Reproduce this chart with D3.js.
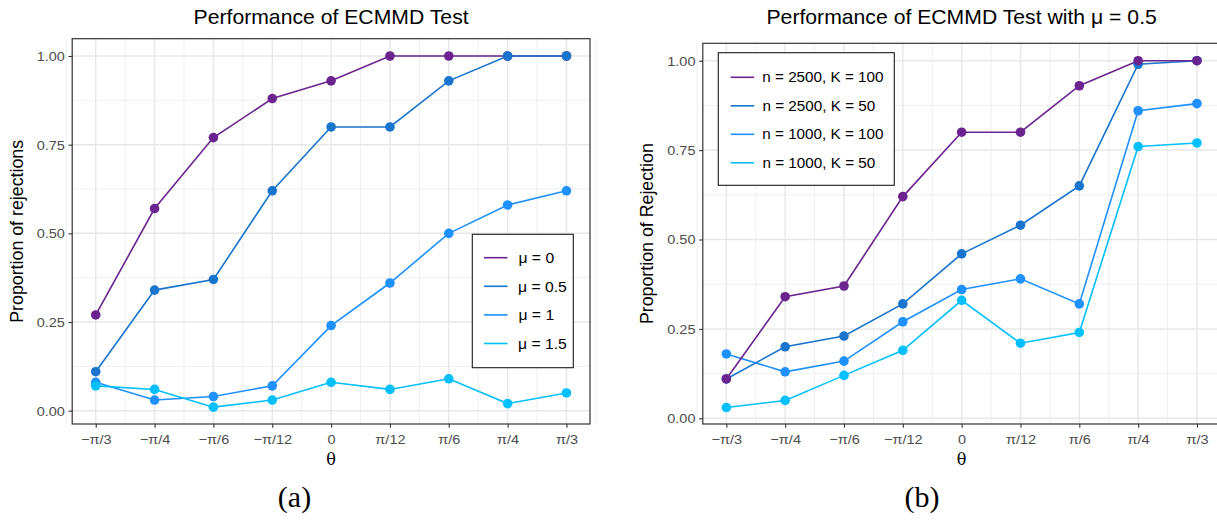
<!DOCTYPE html>
<html><head><meta charset="utf-8">
<script src="https://cdn.jsdelivr.net/npm/d3@7"></script>
<style>
body{margin:0;background:#fff;}
svg{display:block;font-family:"Liberation Sans",Arial,Helvetica,sans-serif;}
.sx{transform-box:fill-box;transform-origin:center;transform:scaleX(1.06);}
</style></head><body><svg id="c" width="1217" height="521"></svg>
<script>
// ---------- data ----------
const thetaLabels = ["−π/3","−π/4","−π/6","−π/12","0","π/12","π/6","π/4","π/3"];
const yTicks = [0, 0.25, 0.5, 0.75, 1];
const yTickLabels = ["0.00","0.25","0.50","0.75","1.00"];
const yMinor = [0.125, 0.375, 0.625, 0.875];

// panel (a)
const seriesA = ["μ = 0","μ = 0.5","μ = 1","μ = 1.5"];
const aMu0   = [0.27,0.57,0.77,0.88,0.93,1.00,1.00,1.00,1.00];
const aMu05  = [0.11,0.34,0.37,0.62,0.80,0.80,0.93,1.00,1.00];
const aMu1   = [0.08,0.03,0.04,0.07,0.24,0.36,0.50,0.58,0.62];
const aMu15  = [0.07,0.06,0.01,0.03,0.08,0.06,0.09,0.02,0.05];

// panel (b)
const seriesB = ["n = 2500, K = 100","n = 2500, K = 50","n = 1000, K = 100","n = 1000, K = 50"];
const bN2500K100 = [0.11,0.34,0.37,0.62,0.80,0.80,0.93,1.00,1.00];
const bN2500K50  = [0.11,0.20,0.23,0.32,0.46,0.54,0.65,0.99,1.00];
const bN1000K100 = [0.18,0.13,0.16,0.27,0.36,0.39,0.32,0.86,0.88];
const bN1000K50  = [0.03,0.05,0.12,0.19,0.33,0.21,0.24,0.76,0.77];

const colors = ["#6A238F","#1874CD","#1E90FF","#00BFFF"];

// ---------- drawing ----------
const svg = d3.select("#c");

function panel(cfg){
  const g = svg.append("g");
  const x = d3.scalePoint().domain(thetaLabels).range([cfg.left, cfg.right]).padding(0.4);
  const y = d3.scaleLinear().domain([0,1]).range([cfg.y0, cfg.y1]);
  const step = x.step();

  // grid
  const grid = g.append("g");
  const xMinor = thetaLabels.slice(0,-1).map(d => x(d) + step/2)
    .concat([x(thetaLabels[0]) - step/2, x(thetaLabels[thetaLabels.length-1]) + step/2]);
  grid.selectAll(".xm").data(xMinor).join("line")
    .attr("x1", d=>d).attr("x2", d=>d).attr("y1", cfg.top).attr("y2", cfg.bottom)
    .attr("stroke","#ebebeb").attr("stroke-width",0.8);
  grid.selectAll(".ym").data(yMinor).join("line")
    .attr("x1", cfg.left).attr("x2", cfg.right).attr("y1", d=>y(d)).attr("y2", d=>y(d))
    .attr("stroke","#ebebeb").attr("stroke-width",0.8);
  grid.selectAll(".xM").data(thetaLabels).join("line")
    .attr("x1", d=>x(d)).attr("x2", d=>x(d)).attr("y1", cfg.top).attr("y2", cfg.bottom)
    .attr("stroke","#e8e8e8").attr("stroke-width",1.5);
  grid.selectAll(".yM").data(yTicks).join("line")
    .attr("x1", cfg.left).attr("x2", cfg.right).attr("y1", d=>y(d)).attr("y2", d=>y(d))
    .attr("stroke","#e8e8e8").attr("stroke-width",1.5);

  // series
  const line = d3.line().x((d,i)=>x(thetaLabels[i])).y(d=>y(d));
  const order = cfg.order;
  order.forEach(k => {
    g.append("path").datum(cfg.values[k]).attr("d", line)
      .attr("fill","none").attr("stroke", colors[k]).attr("stroke-width",1.6);
  });
  order.forEach(k => {
    g.append("g").selectAll("circle").data(cfg.values[k]).join("circle")
      .attr("cx",(d,i)=>x(thetaLabels[i])).attr("cy", d=>y(d)).attr("r",4.8)
      .attr("fill", colors[k]);
  });

  // border
  g.append("rect").attr("x",cfg.left).attr("y",cfg.top)
    .attr("width",cfg.right-cfg.left).attr("height",cfg.bottom-cfg.top)
    .attr("fill","none").attr("stroke","#333").attr("stroke-width",1.2);

  // axes
  const ay = g.append("g").attr("transform",`translate(${cfg.left},0)`)
    .call(d3.axisLeft(y).tickValues(yTicks).tickFormat((d,i)=>yTickLabels[i])
      .tickSize(3.7).tickSizeOuter(0).tickPadding(4.4));
  ay.select(".domain").remove();
  ay.selectAll("line").attr("stroke","#333").attr("stroke-width",1.1);
  ay.selectAll("text").attr("class","sx").attr("fill","#4d4d4d")
    .style("font-size","13.7px").attr("font-family",null);

  const ax = g.append("g").attr("transform",`translate(0,${cfg.bottom})`)
    .call(d3.axisBottom(x).tickSize(3.7).tickSizeOuter(0));
  ax.select(".domain").remove();
  ax.selectAll("line").attr("stroke","#333").attr("stroke-width",1.1);
  ax.selectAll("text").attr("class","sx").attr("fill","#4d4d4d")
    .style("font-size","13.7px").attr("y",20.5).attr("dy",0).attr("font-family",null);
  g.selectAll(".tick text").attr("font-size",null);

  // titles
  g.append("text").attr("class","sx").attr("x",(cfg.left+cfg.right)/2).attr("y",24)
    .attr("text-anchor","middle").style("font-size","20px").attr("fill","#000").text(cfg.title);
  g.append("text").attr("x",x("0")).attr("y",465)
    .attr("text-anchor","middle").attr("font-family","'DejaVu Serif',serif")
    .style("font-size","16px").attr("fill","#000").text("θ");
  g.append("g").attr("transform",`translate(${cfg.ylabX},${(cfg.top+cfg.bottom)/2}) rotate(-90)`)
    .append("text").attr("text-anchor","middle").style("font-size","17.8px").attr("fill","#000")
    .text(cfg.ylabel);

  // subfigure label
  svg.append("text").attr("x",cfg.subX).attr("y",507).attr("text-anchor","middle")
    .attr("font-family","'Liberation Serif','DejaVu Serif',serif").style("font-size","30px")
    .attr("fill","#000").text(cfg.sub);

  // legend
  const L = cfg.legend;
  g.append("rect").attr("x",L.x).attr("y",L.y).attr("width",L.w).attr("height",L.h)
    .attr("fill","#fff").attr("stroke","#1a1a1a").attr("stroke-width",1.1);
  cfg.names.forEach((nm,i) => {
    const yy = L.firstY + i*L.dy;
    g.append("line").attr("x1",L.kx).attr("x2",L.kx+23.5).attr("y1",yy).attr("y2",yy)
      .attr("stroke",colors[i]).attr("stroke-width",1.6);
    g.append("text").attr("class","sx").attr("x",L.tx).attr("y",yy).attr("dy","0.36em")
      .style("font-size",L.fs+"px").attr("fill","#000").text(nm);
  });
}

panel({
  left:72.2, right:590, top:38.7, bottom:424, y0:410.7, y1:56,
  values:[aMu0,aMu05,aMu1,aMu15], names:seriesA, order:[0,1,2,3],
  title:"Performance of ECMMD Test", ylabel:"Proportion of rejections", ylabX:22.5,
  sub:"(a)", subX:294.5,
  legend:{x:472.3,y:234.3,w:101,h:133.4,firstY:257.7,dy:28.6,kx:484,tx:519.5,fs:14.8}
});
panel({
  left:702.8, right:1220.5, top:43.3, bottom:424, y0:418.3, y1:60.7,
  values:[bN2500K100,bN2500K50,bN1000K100,bN1000K50], names:seriesB, order:[3,2,1,0],
  title:"Performance of ECMMD Test with μ = 0.5", ylabel:"Proportion of Rejection", ylabX:652.5,
  sub:"(b)", subX:922,
  legend:{x:718.3,y:52.7,w:176,h:132.6,firstY:77.3,dy:28.5,kx:730.7,tx:765.7,fs:14.4}
});
</script></body></html>
